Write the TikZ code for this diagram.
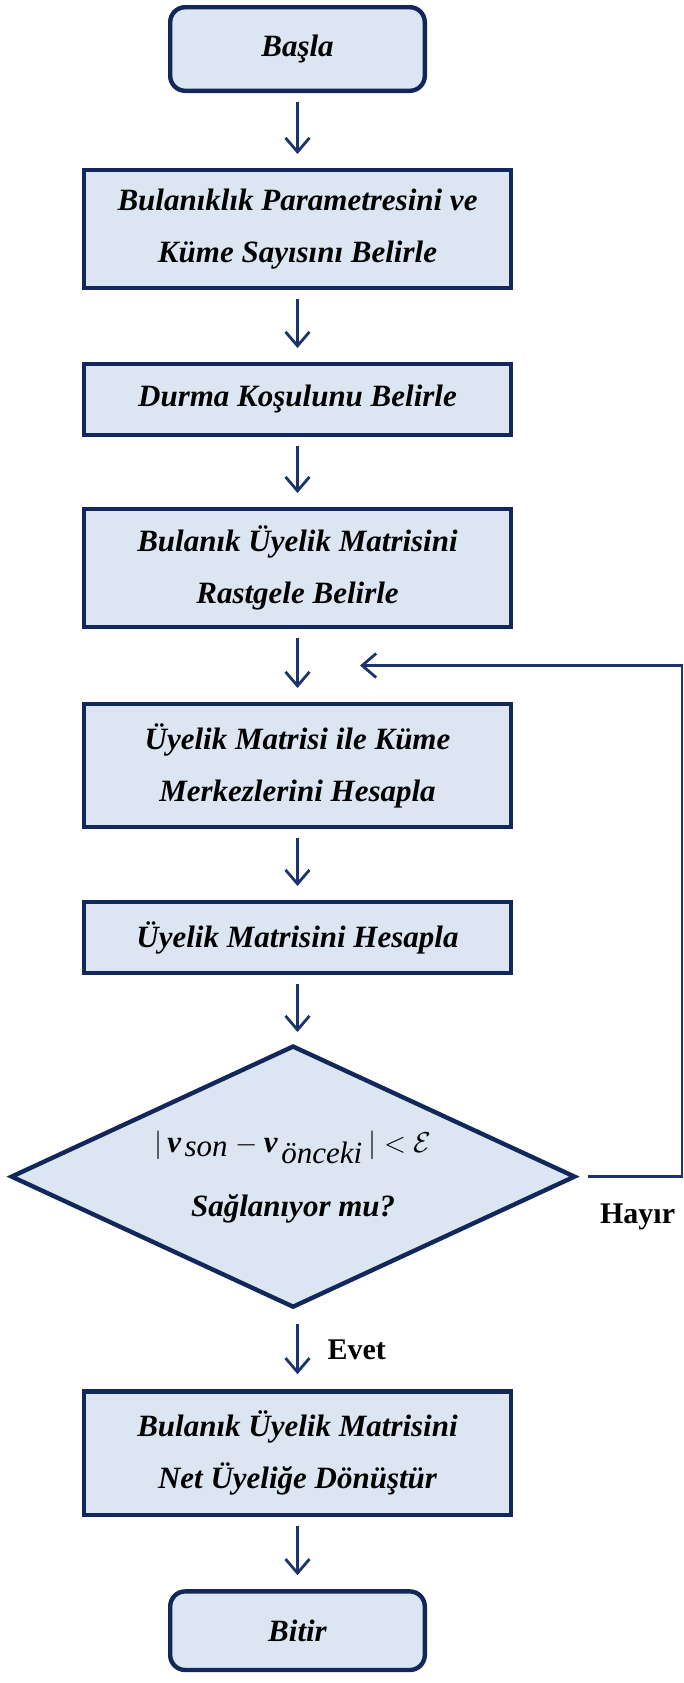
\documentclass[tikz,border=0pt]{standalone}
\usepackage{fontspec}
\setmainfont{Liberation Serif}
\usepackage{tikz}
\usetikzlibrary{positioning,shapes.geometric,arrows.meta,calc}
\definecolor{navy}{RGB}{18,40,90}
\definecolor{arrblue}{RGB}{28,52,105}
\definecolor{boxfill}{RGB}{220,230,242}

\begin{document}
\begin{tikzpicture}[
        box/.style={rectangle, draw=navy, fill=boxfill, line width=2.2pt,
                    minimum width=213.3pt, minimum height=58.8pt, inner sep=0pt,
                    font={\fontsize{15.5pt}{26pt}\selectfont\bfseries\itshape}, align=center},
        term/.style={box, rounded corners=7.5pt, minimum width=127.3pt, minimum height=41.8pt},
        dec/.style={box, diamond, aspect=2.1, minimum width=282.3pt, minimum height=131pt,
                    font={\fontsize{15.5pt}{32pt}\selectfont\bfseries\itshape}},
        arr/.style={-{Straight Barb[length=7pt,width=12pt]}, line width=1.4pt, arrblue,
                    shorten <=4.5pt, shorten >=7pt},
        lbl/.style={text=black, font={\fontsize{15pt}{18pt}\selectfont\bfseries}}
      ]
        \useasboundingbox (0,0) rectangle (342pt,-841.5pt);
        \node[term] (s1) at (148.75pt,-24.5pt) {Başla};
        \node[box, below=37.5pt of s1] (s2)
              {Bulanıklık Parametresini ve\\Küme Sayısını Belirle};
        \node[box, minimum height=35.3pt, below=36pt of s2] (s3) {Durma Koşulunu Belirle};
        \node[box, below=35pt of s3] (s4)
              {Bulanık Üyelik Matrisini\\Rastgele Belirle};
        \node[box, minimum height=61.3pt, below=36.5pt of s4] (s5)
              {Üyelik Matrisi ile Küme\\Merkezlerini Hesapla};
        \node[box, minimum height=35.3pt, below=35.5pt of s5] (s6) {Üyelik Matrisini Hesapla};
        \node[dec, below=34.2pt of s6, xshift=-2.2pt] (dec)
              {$|\,\textit{v}_{\,\textmd{\textit{son}}}-\textit{v}_{\,\textmd{\textit{önceki}}}\,|<\mathcal{E}$\\Sağlanıyor mu?};
        \node[box, minimum height=61.8pt, below=39.7pt of dec.south -| s6.south] (s7)
              {Bulanık Üyelik Matrisini\\Net Üyeliğe Dönüştür};
        \node[term, minimum height=39.3pt, below=36pt of s7] (s8) {Bitir};
        \node[lbl] (no) at ([xshift=30pt,yshift=-20pt]dec.east) {Hayır};

        % geri dönüş
        \coordinate (ret) at ([xshift=31.25pt]$(s4.south)!.5!(s5.north)$);
        \coordinate (rgt) at (341pt,0);

        \draw[arr] (s1)--(s2); \draw[arr] (s2)--(s3);
        \draw[arr] (s3)--(s4); \draw[arr] (s4)--(s5);
        \draw[arr] (s5)--(s6); \draw[arr, shorten >=5.7pt] (s6)--(s6 |- dec.north);
        \draw[arr, shorten <=7.2pt, shorten >=7.5pt] (s7 |- dec.south)--
              node[lbl, right=11pt]{Evet} (s7);
        \draw[arr] (s7)--(s8);
        \draw[arr, shorten <=5pt, shorten >=0pt] (dec.east)--(dec.east -| rgt) |- (ret);
      \end{tikzpicture}
\end{document}
